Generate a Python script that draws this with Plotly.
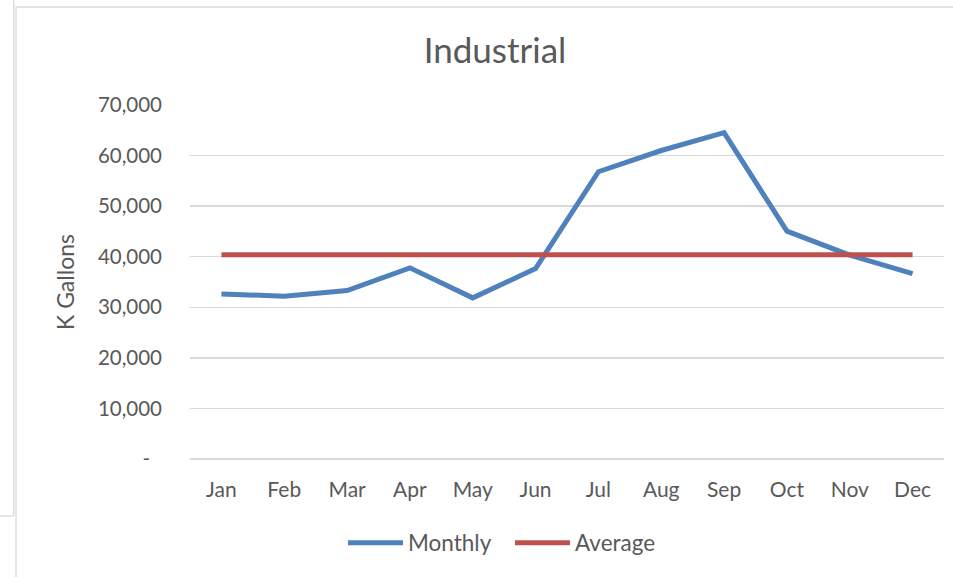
import plotly.graph_objects as go

months = ["Jan", "Feb", "Mar", "Apr", "May", "Jun", "Jul", "Aug", "Sep", "Oct", "Nov", "Dec"]
monthly = [32650, 32180, 33300, 37800, 31860, 37660, 56800, 61000, 64530, 45050, 40300, 36670]
average = [40400] * 12
y_tick_vals = [0, 10000, 20000, 30000, 40000, 50000, 60000, 70000]
y_tick_text = ["-\u2007", "10,000", "20,000", "30,000", "40,000", "50,000", "60,000", "70,000"]

W, H = 953, 577
L, R, T, B = 190, 9, 105, 118
PW, PH = W - L - R, H - T - B

def px(x):
    return (x - L) / PW

def py(y):
    return (H - B - y) / PH

FONT = "Lato"
TXT = "#595959"
GRID = "#D9D9D9"

fig = go.Figure()
fig.add_trace(go.Scatter(x=months, y=monthly, mode="lines", name="Monthly",
                         line=dict(color="#4F81BD", width=5)))
fig.add_trace(go.Scatter(x=months, y=average, mode="lines", name="Average",
                         line=dict(color="#C0504D", width=5)))

border = dict(color="#D9D9D9", width=1.3)
shapes = [
    dict(type="line", xref="paper", yref="paper", x0=px(13.8), x1=px(13.8), y0=py(0), y1=py(516), line=border),
    dict(type="line", xref="paper", yref="paper", x0=px(0), x1=px(13.8), y0=py(516), y1=py(516), line=border),
    dict(type="line", xref="paper", yref="paper", x0=px(16), x1=px(16), y0=py(7), y1=py(577), line=border),
    dict(type="line", xref="paper", yref="paper", x0=px(16), x1=px(953), y0=py(7), y1=py(7), line=border),
]

fig.update_layout(
    width=W, height=H,
    margin=dict(l=L, r=R, t=T, b=B),
    paper_bgcolor="white", plot_bgcolor="white",
    font=dict(family=FONT, color=TXT, size=21),
    title=dict(text="Industrial", x=495 / W, xanchor="center", xref="container",
               y=1 - 51 / H, yanchor="middle", yref="container",
               font=dict(family=FONT, size=35, color=TXT)),
    showlegend=True,
    legend=dict(orientation="h", xanchor="center", x=px(510), yanchor="middle", y=py(543),
                font=dict(family=FONT, size=22.5, color=TXT), itemwidth=55,
                entrywidth=97, entrywidthmode="pixels",
                bgcolor="rgba(0,0,0,0)"),
    shapes=shapes,
    hovermode=False,
)
fig.update_xaxes(type="category", range=[-0.5, 11.5], showgrid=False, showline=False,
                 zeroline=False, ticks="", ticklabelstandoff=16,
                 tickfont=dict(family=FONT, size=21, color=TXT))
fig.update_yaxes(range=[0, 70000], tickvals=y_tick_vals, ticktext=y_tick_text,
                 showgrid=True, gridcolor=GRID, gridwidth=1.3, zeroline=True,
                 zerolinecolor=GRID, zerolinewidth=1.3, showline=False, ticks="",
                 ticklabelstandoff=27,
                 tickfont=dict(family=FONT, size=20.5, color=TXT),
                 title=dict(text="K Gallons", standoff=16,
                            font=dict(family=FONT, size=23, color=TXT)))

fig.write_html("out.html", config={"displayModeBar": False, "staticPlot": True},
               post_script="document.body.style.margin='0';document.body.style.overflow='hidden';")
